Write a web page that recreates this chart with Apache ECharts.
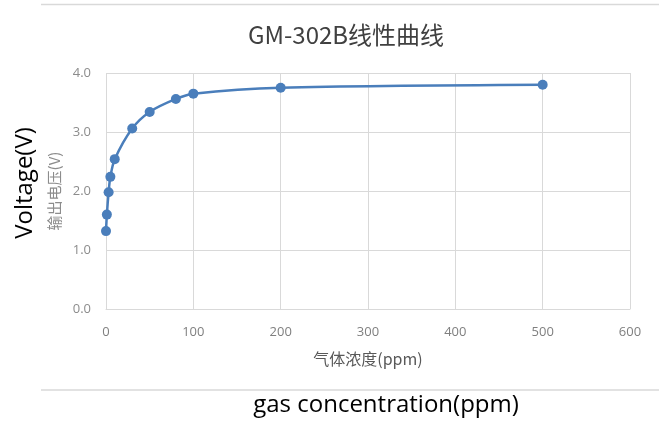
<!DOCTYPE html>
<html>
<head>
<meta charset="utf-8">
<script src="https://cdn.jsdelivr.net/npm/echarts@6/dist/echarts.min.js"></script>
<style>html,body{margin:0;padding:0;background:#fff;}#c{width:659px;height:421px;}</style>
</head>
<body>
<div id="c"></div>
<script>
var concentration = [0, 1, 3, 5, 10, 30, 50, 80, 100, 200, 500];
var voltage = [1.32, 1.60, 1.98, 2.24, 2.54, 3.06, 3.34, 3.56, 3.65, 3.75, 3.80];
var xTicks = [0, 100, 200, 300, 400, 500, 600];
var yTicks = [0, 1, 2, 3, 4];

var chart = echarts.init(document.getElementById('c'));
var data = concentration.map(function (c, i) { return [c, voltage[i]]; });
var cjk = '"Noto Sans CJK SC", "Open Sans", sans-serif';
var num = '"Open Sans", "Noto Sans", sans-serif';
chart.setOption({
  animation: false,
  title: {
    text: 'GM-302B线性曲线',
    left: 243,
    top: 18,
    textStyle: { fontFamily: cjk, fontSize: 24, fontWeight: 'normal', color: '#404040' }
  },
  grid: { left: 106, right: 29, top: 73, bottom: 112 },
  xAxis: {
    type: 'value',
    min: xTicks[0], max: xTicks[xTicks.length - 1], interval: 100,
    name: '气体浓度(ppm)', nameLocation: 'middle', nameGap: 42,
    nameTextStyle: { fontFamily: cjk, fontSize: 16, color: '#595959' },
    axisLine: { show: true, lineStyle: { color: '#d9d9d9' } },
    axisTick: { show: false },
    axisLabel: { fontFamily: num, fontSize: 13, color: '#7f7f7f', margin: 17 },
    splitLine: { show: true, lineStyle: { color: '#d9d9d9' } }
  },
  yAxis: {
    type: 'value',
    min: yTicks[0], max: yTicks[yTicks.length - 1], interval: 1,
    name: '输出电压(V)', nameLocation: 'middle', nameGap: 44, nameRotate: 90,
    nameTextStyle: { fontFamily: cjk, fontSize: 15, color: '#8c8c8c' },
    axisLine: { show: false },
    axisTick: { show: false },
    axisLabel: { fontFamily: num, fontSize: 13, color: '#8c8c8c', margin: 15,
      formatter: function (v) { return v.toFixed(1); } },
    splitLine: { show: true, lineStyle: { color: '#d9d9d9' } }
  },
  series: [{
    type: 'line',
    data: data,
    smooth: 0.3,
    symbol: 'circle',
    symbolSize: 10,
    itemStyle: { color: '#4a7ebb' },
    lineStyle: { color: '#4a7ebb', width: 2.5 }
  }],
  graphic: [
    { type: 'line', shape: { x1: 41, y1: 4.5, x2: 659, y2: 4.5 }, style: { stroke: '#d9d9d9', lineWidth: 1.5 } },
    { type: 'line', shape: { x1: 41, y1: 390, x2: 659, y2: 390 }, style: { stroke: '#d9d9d9', lineWidth: 1.5 } },
    { type: 'text', x: 386, y: 405, style: { text: 'gas concentration(ppm)', fill: '#000', font: '24px "Open Sans", "Noto Sans", sans-serif', textAlign: 'center', textVerticalAlign: 'middle' } },
    { type: 'text', x: 25, y: 183, rotation: Math.PI / 2, style: { text: 'Voltage(V)', fill: '#000', font: '24px "Open Sans", "Noto Sans", sans-serif', textAlign: 'center', textVerticalAlign: 'middle' } }
  ]
});
</script>
</body>
</html>
